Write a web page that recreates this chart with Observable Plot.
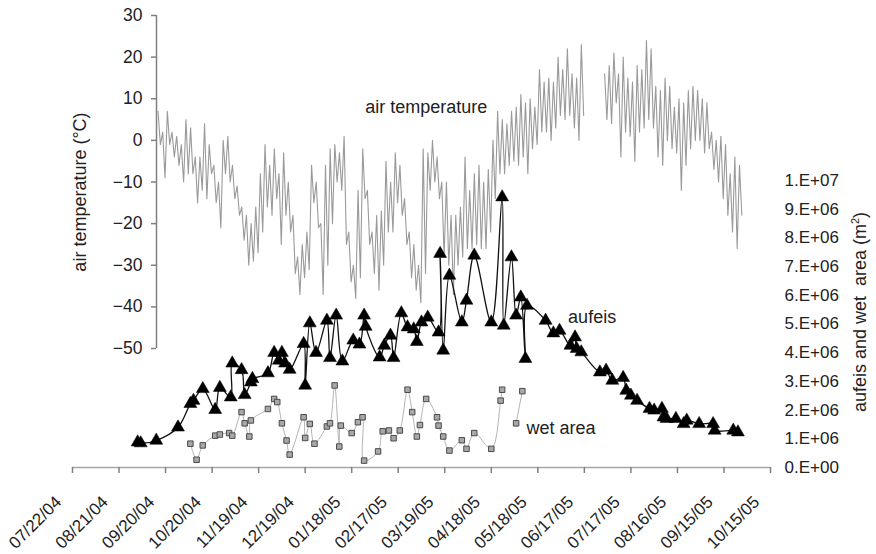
<!DOCTYPE html>
<html>
<head>
<meta charset="utf-8">
<script src="https://cdn.jsdelivr.net/npm/d3@7"></script>
<script src="https://cdn.jsdelivr.net/npm/@observablehq/plot@0.6"></script>
<style>
  html, body { margin: 0; padding: 0; background: #fff; }
  #chart { position: relative; width: 876px; height: 554px; overflow: hidden; font-family: "Liberation Sans", Arial, sans-serif; color: #222; }
  #chart svg { position: absolute; left: 0; top: 0; }
  .ytitle { position: absolute; white-space: pre; font-size: 18px; color: #222; transform: translate(-50%, -50%) rotate(-90deg); }
  .ytitle sup { font-size: 11px; }
</style>
</head>
<body>
<div id="chart">
  <div class="ytitle" style="left:80px; top:192px;">air temperature (°C)</div>
  <div class="ytitle" style="left:860px; top:312px;">aufeis and wet  area (m<sup>2</sup>)</div>
</div>
<script>
// ---------------- DATA ----------------
const xTickLabels = ["07/22/04","08/21/04","09/20/04","10/20/04","11/19/04","12/19/04","01/18/05","02/17/05","03/19/05","04/18/05","05/18/05","06/17/05","07/17/05","08/16/05","09/15/05","10/15/05"];
const tempTicks = [30, 20, 10, 0, -10, -20, -30, -40, -50];
const areaTicks = [0, 1, 2, 3, 4, 5, 6, 7, 8, 9, 10]; // millions of m2
const areaTickLabels = ["0.E+00","1.E+06","2.E+06","3.E+06","4.E+06","5.E+06","6.E+06","7.E+06","8.E+06","9.E+06","1.E+07"];

// air temperature: 3-day bins starting 2004-09-15, daily high / low within bin (°C)
const tempStart = "2004-09-15";
const tempStepDays = 3;
const tempHigh = [7,2,7,2,1,-1,5,3,-4,-4,
  4,-1,-6,-10,0,1,-6,-11,-16,-18,
  -20,-16,-8,-1,-6,-2,-8,-3,-10,-18,
  -28,-25,-22,-6,-10,-20,-6,-2,-1,-3,
  1,-22,-30,-12,-2,-12,-22,-18,-17,-5,
  -10,-3,-6,-14,-22,-25,-30,-2,-3,0,
  -4,-10,-10,-18,-18,-16,-4,-12,-8,-6,
  -10,-7,0,7,5,4,7,8,11,9,
  10,8,17,14,15,14,20,17,22,16,
  15,23,null,null,null,null,16,18,21,16,
  20,15,14,18,17,24,22,13,12,15,
  13,8,10,9,12,13,12,10,9,2,
  0,1,-1,-8,-4,-6];
const tempLow = [-1,-9,-1,-4,-6,-10,-8,-8,-15,-12,
  -14,-8,-15,-21,-8,-10,-14,-18,-24,-30,
  -29,-27,-22,-16,-18,-14,-25,-18,-22,-32,
  -37,-33,-31,-15,-21,-37,-30,-20,-10,-12,
  -25,-34,-38,-33,-14,-25,-32,-36,-30,-22,
  -22,-15,-18,-25,-33,-36,-39,-32,-12,-10,
  -14,-28,-30,-37,-30,-28,-26,-26,-25,-26,
  -26,-22,-14,-8,-8,-6,-5,-6,-4,-8,
  -2,-1,2,2,0,3,6,5,6,3,
  0,6,null,null,null,null,5,4,9,-4,
  2,1,-5,2,3,5,3,-4,-6,0,
  -2,-3,-12,-6,-2,0,0,-3,-2,-7,
  -10,-14,-18,-22,-26,-18];

// aufeis area (millions of m2)
const aufeisDates = ["2004-09-02","2004-09-04","2004-09-14","2004-09-28","2004-10-06","2004-10-08","2004-10-14","2004-10-22","2004-10-25","2004-11-01",
  "2004-11-02","2004-11-08","2004-11-10","2004-11-14","2004-11-15","2004-11-25","2004-11-29","2004-12-02","2004-12-04","2004-12-06",
  "2004-12-09","2004-12-18","2004-12-19","2004-12-22","2004-12-26","2005-01-02","2005-01-04","2005-01-08","2005-01-12","2005-01-19",
  "2005-01-23","2005-01-26","2005-01-27","2005-02-05","2005-02-08","2005-02-12","2005-02-14","2005-02-19","2005-02-23","2005-02-27",
  "2005-03-01","2005-03-04","2005-03-08","2005-03-15","2005-03-16","2005-03-18","2005-03-22","2005-03-30","2005-04-02","2005-04-07",
  "2005-04-18","2005-04-25","2005-04-26","2005-05-01","2005-05-04","2005-05-07","2005-05-10","2005-05-11","2005-05-23","2005-05-28",
  "2005-06-01","2005-06-08","2005-06-11","2005-06-12","2005-06-15","2005-06-27","2005-07-01","2005-07-05","2005-07-12","2005-07-14",
  "2005-07-17","2005-07-21","2005-07-29","2005-08-01","2005-08-06","2005-08-07","2005-08-09","2005-08-15","2005-08-20","2005-08-22",
  "2005-08-30","2005-09-08","2005-09-09","2005-09-21","2005-09-24"];
const aufeisArea = [0.88,0.85,0.94,1.40,2.22,2.33,2.74,2.01,2.78,2.45,
  3.63,3.40,2.53,2.97,3.09,3.29,4.00,3.73,4.00,3.63,
  3.41,4.31,2.86,5.03,4.00,5.12,3.82,5.30,3.70,4.43,
  4.29,5.30,4.91,3.84,4.25,4.60,3.82,5.38,4.89,4.82,
  4.38,5.06,5.23,4.71,7.45,4.08,6.69,5.06,5.82,7.39,
  5.06,9.42,4.95,7.33,5.30,5.93,3.79,5.64,5.12,4.68,
  4.77,4.25,4.54,4.14,4.02,3.32,3.38,3.03,3.13,2.68,
  2.51,2.33,2.05,1.99,2.05,1.75,1.70,1.70,1.52,1.64,
  1.52,1.52,1.29,1.29,1.23];

// wet area (millions of m2); segment splits the line where it is broken
const wetDates = ["2004-10-06","2004-10-10","2004-10-14","2004-10-22","2004-10-25","2004-10-31","2004-11-02","2004-11-08","2004-11-10","2004-11-13",
  "2004-11-14","2004-11-25","2004-11-29","2004-12-01","2004-12-04","2004-12-07","2004-12-09","2004-12-18","2004-12-19","2004-12-22",
  "2004-12-25","2005-01-02","2005-01-04","2005-01-07","2005-01-10","2005-01-11","2005-01-18","2005-01-22","2005-01-25","2005-01-26",
  "2005-02-04","2005-02-07","2005-02-11","2005-02-14","2005-02-18","2005-02-23","2005-02-26","2005-03-01","2005-03-03","2005-03-07",
  "2005-03-14","2005-03-15","2005-03-18","2005-03-22","2005-03-30","2005-04-02","2005-04-07","2005-04-18","2005-04-24","2005-04-25",
  "2005-05-04","2005-05-08"];
const wetArea = [0.83,0.27,0.77,1.11,1.15,1.20,1.11,1.93,1.54,1.08,
  1.64,2.04,2.39,2.28,1.54,0.94,0.45,1.75,1.03,1.52,
  0.83,1.43,1.54,2.86,0.73,1.46,1.20,1.58,1.75,0.24,
  0.56,1.26,1.29,1.02,1.29,2.71,1.93,1.08,1.48,2.39,
  1.75,1.46,1.08,0.59,0.95,0.65,1.20,0.65,2.33,2.71,
  1.54,2.66];
const wetSegment = [1,1,1,1,1,1,1,1,1,1, 1,1,1,1,1,1,1,1,1,1, 1,1,1,1,1,1,1,1,1,1,
  1,1,1,1,1,1,1,1,1,1, 1,1,1,1,1,1,1,1,1,1, 2,2];

// in-chart labels
const tempLabel = {text: "air temperature", date: "2005-03-07", value: 7.9};
const seriesLabels = [
  {text: "aufeis", date: "2005-06-22", value: 5.23},
  {text: "wet area", date: "2005-06-02", value: 1.36}
];

// ---------------- BUILD ----------------
const parseMDY = d3.utcParse("%m/%d/%y");
const iso = d3.utcParse("%Y-%m-%d");
const DAY = 864e5;
const xTickDates = xTickLabels.map(parseMDY);
const xDomain = [xTickDates[0], xTickDates[xTickDates.length - 1]];

const t0 = iso(tempStart);
const tempPoints = [];
tempHigh.forEach((h, k) => {
  const d = +t0 + k * tempStepDays * DAY;
  tempPoints.push({date: new Date(d), t: h});
  tempPoints.push({date: new Date(d + tempStepDays / 2 * DAY), t: tempLow[k]});
});

const aufeis = aufeisDates.map((d, i) => ({date: iso(d), v: aufeisArea[i]}));
const wet = wetDates.map((d, i) => ({date: iso(d), v: wetArea[i], seg: wetSegment[i]}));

const font = '"Liberation Sans", Arial, sans-serif';
const W = 876, H = 554;

// Plot 1: temperature with its own left axis (axis line where the record begins)
const tempAxisDate = iso("2004-09-14");
const p1 = Plot.plot({
  width: W, height: H,
  marginLeft: 156, marginRight: 106, marginTop: 15, marginBottom: 206,
  style: {fontFamily: font, fontSize: "17.5px", color: "#222", background: "transparent", overflow: "visible"},
  x: {type: "utc", domain: [tempAxisDate, xDomain[1]], axis: null},
  y: {domain: [-50, 30], axis: null},
  marks: [
    Plot.ruleX([tempAxisDate], {stroke: "gray", strokeWidth: 1.5}),
    Plot.axisY(tempTicks, {anchor: "left", tickSize: 5, tickPadding: 9, stroke: "gray", strokeWidth: 1.5, fill: "#222", label: null}),
    Plot.line(tempPoints, {x: "date", y: "t", stroke: "#9a9a9a", strokeWidth: 1.1}),
    Plot.text([tempLabel], {x: d => iso(d.date), y: "value", text: "text", fontSize: 18, fill: "#222"})
  ]
});

// Plot 2: aufeis and wet area with x axis and right axis
const p2 = Plot.plot({
  width: W, height: H,
  marginLeft: 72, marginRight: 106, marginTop: 180, marginBottom: 87,
  style: {fontFamily: font, fontSize: "17px", color: "#222", background: "transparent", overflow: "visible"},
  x: {type: "utc", domain: xDomain},
  y: {domain: [0, 10]},
  marks: [
    Plot.ruleY([0], {stroke: "#a6a6a6", strokeWidth: 1.5}),
    Plot.axisX(xTickDates, {tickSize: 6, stroke: "gray", strokeWidth: 1.5, tickFormat: () => "", label: null}),
    Plot.text(xTickLabels, {x: d => parseMDY(d), text: d => d, frameAnchor: "bottom", rotate: -45,
      textAnchor: "end", lineAnchor: "bottom", dx: -10, dy: 35.5, fill: "#222", fontSize: 17}),
    Plot.axisY(areaTicks, {anchor: "right", tickSize: 0, tickPadding: 14, fill: "#222",
      tickFormat: d => areaTickLabels[areaTicks.indexOf(d)], label: null, textAnchor: "start"}),
    Plot.line(wet, {x: "date", y: "v", z: "seg", stroke: "#b4b4b4", strokeWidth: 1, curve: "catmull-rom"}),
    Plot.dot(wet, {x: "date", y: "v", symbol: "square", r: 3.1, fill: "#a8a8a8", stroke: "#4a4a4a", strokeWidth: 1}),
    Plot.line(aufeis, {x: "date", y: "v", stroke: "#111", strokeWidth: 1.3, curve: "catmull-rom"}),
    Plot.dot(aufeis, {x: "date", y: "v", symbol: "triangle", r: 4.8, fill: "#000", stroke: "#000", strokeWidth: 0.5}),
    Plot.text(seriesLabels, {x: d => iso(d.date), y: "value", text: "text", fontSize: 18, fill: "#222"})
  ]
});

const chart = document.getElementById("chart");
chart.insertBefore(p2, chart.firstChild);
chart.insertBefore(p1, chart.firstChild);
</script>
</body>
</html>
